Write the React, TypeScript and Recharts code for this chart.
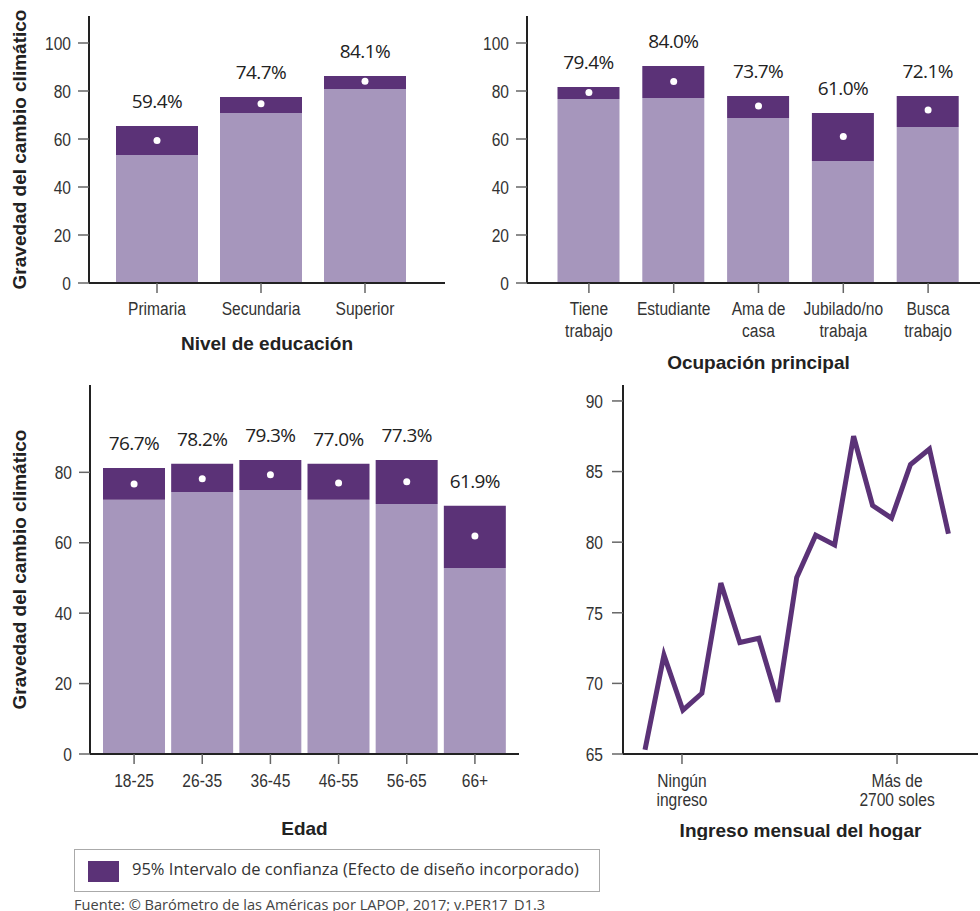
import { ComposedChart, LineChart, Bar, Line, XAxis, YAxis, LabelList, Label } from 'recharts';

// Nivel de educación
const eduCats = ['Primaria', 'Secundaria', 'Superior'];
const eduMean = [59.4, 74.7, 84.1];
const eduLow = [53.3, 70.8, 80.8];
const eduHigh = [65.4, 77.5, 86.3];

// Ocupación principal
const ocuCats = ['Tiene\ntrabajo', 'Estudiante', 'Ama de\ncasa', 'Jubilado/no\ntrabaja', 'Busca\ntrabajo'];
const ocuMean = [79.4, 84.0, 73.7, 61.0, 72.1];
const ocuLow = [76.7, 77.1, 68.8, 50.8, 65.0];
const ocuHigh = [81.7, 90.4, 77.9, 70.8, 77.9];

// Edad
const edadCats = ['18-25', '26-35', '36-45', '46-55', '56-65', '66+'];
const edadMean = [76.7, 78.2, 79.3, 77.0, 77.3, 61.9];
const edadLow = [72.2, 74.4, 75.0, 72.2, 71.0, 52.8];
const edadHigh = [81.2, 82.4, 83.5, 82.4, 83.5, 70.5];

// Ingreso mensual del hogar
const ingresoX = [1, 2, 3, 4, 5, 6, 7, 8, 9, 10, 11, 12, 13, 14, 15, 16, 17];
const ingresoY = [65.3, 72.0, 68.1, 69.3, 77.1, 72.9, 73.2, 68.7, 77.5, 80.5, 79.8, 87.5, 82.6, 81.7, 85.5, 86.6, 80.6];
const ingresoTicks = [2.95, 14.29];
const ingresoTickLabels = ['Ningún\ningreso', 'Más de\n2700 soles'];

const pctTicks = [0, 20, 40, 60, 80, 100];
const edadTicks = [0, 20, 40, 60, 80];
const ingresoYTicks = [65, 70, 75, 80, 85, 90];

const LIGHT = '#a696bc';
const DARK = '#5b3277';
const SANS = "'Liberation Sans', Arial, sans-serif";
const LABEL_FONT = "'Open Sans', 'Noto Sans', sans-serif";
const Y_TITLE = 'Gravedad del cambio climático';
const NARROW_SCALE = 0.82;

const rows = (cats: string[], low: number[], high: number[], mean: number[]) =>
  cats.map((c, i) => ({ cat: c, low: low[i], ci: +(high[i] - low[i]).toFixed(2), mean: mean[i] }));

// narrow (condensed) tick text, like the original's Arial Narrow
function XTick(props: any) {
  const { x, y, payload, lineHeight = 22, labels, ticks } = props;
  let text = String(payload.value);
  if (labels && ticks) text = labels[ticks.indexOf(payload.value)] ?? text;
  const lines = text.split('\n');
  return (
    <g transform={`translate(${x},${y}) scale(${NARROW_SCALE},1)`}>
      <text x={0} y={0} textAnchor="middle" fill="#333" fontFamily={SANS} fontSize={19}>
        {lines.map((l: string, i: number) => (
          <tspan key={i} x={0} dy={i === 0 ? '0.71em' : lineHeight}>
            {l}
          </tspan>
        ))}
      </text>
    </g>
  );
}

function YTick(props: any) {
  const { x, y, payload } = props;
  return (
    <g transform={`translate(${x},${y}) scale(${NARROW_SCALE},1)`}>
      <text x={0} y={0} dy="0.355em" textAnchor="end" fill="#333" fontFamily={SANS} fontSize={19}>
        {payload.value}
      </text>
    </g>
  );
}

const axisLine = { stroke: '#222', strokeWidth: 2 };
const tickLine = { stroke: '#666', strokeWidth: 1.5 };
const titleStyle = { fill: '#222', fontFamily: SANS, fontSize: 19, fontWeight: 700 };

function CIChart(props: any) {
  const {
    data, width, height, margin, yWidth, domain, ticks, padding, barSize, xHeight,
    title, yTitle, lineHeight, tickMargin,
  } = props;
  return (
    <ComposedChart width={width} height={height} data={data} margin={margin}>
      <XAxis
        dataKey="cat"
        type="category"
        height={xHeight}
        padding={padding}
        axisLine={axisLine}
        tickLine={tickLine}
        tickSize={10}
        tickMargin={tickMargin}
        interval={0}
        tick={<XTick lineHeight={lineHeight} />}
      >
        <Label value={title} position="insideBottom" offset={0} style={titleStyle} />
      </XAxis>
      <YAxis
        type="number"
        domain={domain}
        ticks={ticks}
        width={yWidth}
        axisLine={axisLine}
        tickLine={tickLine}
        tickSize={11}
        tickMargin={7}
        tick={<YTick />}
        interval={0}
      >
        {yTitle ? (
          <Label
            value={yTitle}
            angle={-90}
            position="insideLeft"
            offset={19}
            style={{ ...titleStyle, textAnchor: 'middle' }}
          />
        ) : null}
      </YAxis>
      <Bar dataKey="low" stackId="ci" fill={LIGHT} barSize={barSize} isAnimationActive={false} />
      <Bar dataKey="ci" stackId="ci" fill={DARK} barSize={barSize} isAnimationActive={false}>
        <LabelList
          dataKey="mean"
          position="top"
          offset={18}
          formatter={(v: any) => `${Number(v).toFixed(1)}%`}
          fill="#222"
          fontFamily={LABEL_FONT}
          fontSize={19}
          letterSpacing={-0.6}
        />
      </Bar>
      <Line
        dataKey="mean"
        stroke="none"
        dot={{ r: 3.5, fill: '#fff', stroke: 'none' }}
        activeDot={false}
        isAnimationActive={false}
      />
    </ComposedChart>
  );
}

export default function App() {
  const eduRows = rows(eduCats, eduLow, eduHigh, eduMean);
  const ocuRows = rows(ocuCats, ocuLow, ocuHigh, ocuMean);
  const edadRows = rows(edadCats, edadLow, edadHigh, edadMean);
  const ingresoRows = ingresoX.map((x, i) => ({ x, y: ingresoY[i] }));

  return (
    <div
      style={{
        position: 'absolute',
        left: 0,
        top: 0,
        width: 980,
        height: 911,
        overflow: 'hidden',
        background: '#fff',
      }}
    >
      <div style={{ position: 'absolute', left: 0, top: 0 }}>
        <CIChart
          data={eduRows}
          width={460}
          height={360}
          margin={{ top: 16, right: 15, left: 0, bottom: 10 }}
          yWidth={89}
          domain={[0, 111.25]}
          ticks={pctTicks}
          padding={{ left: 16, right: 28 }}
          barSize={82}
          xHeight={67}
          tickMargin={9}
          lineHeight={22}
          title="Nivel de educación"
          yTitle={Y_TITLE}
        />
      </div>
      <div style={{ position: 'absolute', left: 440, top: 0 }}>
        <CIChart
          data={ocuRows}
          width={560}
          height={380}
          margin={{ top: 16, right: 10, left: 0, bottom: 11 }}
          yWidth={87}
          domain={[0, 111.25]}
          ticks={pctTicks}
          padding={{ left: 19.5, right: 19.5 }}
          barSize={62}
          xHeight={86}
          tickMargin={9}
          lineHeight={22}
          title="Ocupación principal"
        />
      </div>
      <div style={{ position: 'absolute', left: 0, top: 360 }}>
        <CIChart
          data={edadRows}
          width={540}
          height={480}
          margin={{ top: 25, right: 21, left: 0, bottom: 5 }}
          yWidth={90}
          domain={[0, 104.8]}
          ticks={edadTicks}
          padding={{ left: 10, right: 10 }}
          barSize={62}
          xHeight={81}
          tickMargin={10}
          lineHeight={22}
          title="Edad"
          yTitle={Y_TITLE}
        />
      </div>
      <div style={{ position: 'absolute', left: 560, top: 360 }}>
        <LineChart width={440} height={480} data={ingresoRows} margin={{ top: 25, right: 22, left: 0, bottom: 3 }}>
          <XAxis
            dataKey="x"
            type="number"
            domain={[-0.16, 18.56]}
            ticks={ingresoTicks}
            height={83}
            axisLine={axisLine}
            tickLine={tickLine}
            tickSize={10}
            tickMargin={10}
            interval={0}
            tick={<XTick lineHeight={19} labels={ingresoTickLabels} ticks={ingresoTicks} />}
          >
            <Label value="Ingreso mensual del hogar" position="insideBottom" offset={0} style={titleStyle} />
          </XAxis>
          <YAxis
            type="number"
            domain={[65, 91.13]}
            ticks={ingresoYTicks}
            width={63}
            axisLine={axisLine}
            tickLine={tickLine}
            tickSize={11}
            tickMargin={9}
            tick={<YTick />}
            interval={0}
          />
          <Line
            dataKey="y"
            stroke={DARK}
            strokeWidth={5}
            dot={false}
            activeDot={false}
            isAnimationActive={false}
          />
        </LineChart>
      </div>
      <div
        style={{
          position: 'absolute',
          left: 74,
          top: 849,
          width: 526,
          height: 43,
          border: '1.5px solid #aaa',
          boxSizing: 'border-box',
        }}
      >
        <div style={{ position: 'absolute', left: 13, top: 11, width: 31, height: 21, background: DARK }} />
        <div
          style={{
            position: 'absolute',
            left: 57,
            top: 7,
            fontFamily: LABEL_FONT,
            fontSize: 16.5,
            color: '#333',
            whiteSpace: 'nowrap',
          }}
        >
          95% Intervalo de confianza (Efecto de diseño incorporado)
        </div>
      </div>
      <div
        style={{
          position: 'absolute',
          left: 74,
          top: 894,
          fontFamily: LABEL_FONT,
          fontSize: 14.6,
          color: '#444',
          whiteSpace: 'nowrap',
        }}
      >
        Fuente: © Barómetro de las Américas por LAPOP, 2017; v.PER17_D1.3
      </div>
    </div>
  );
}
